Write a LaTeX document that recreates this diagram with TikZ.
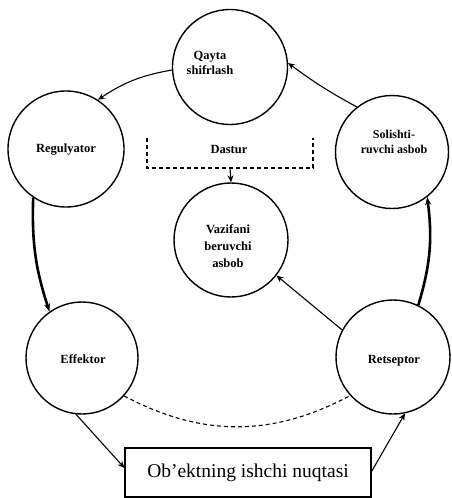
\documentclass[tikz,border=0pt]{standalone}
\usepackage{fontspec}
\setmainfont{Liberation Serif}
\usetikzlibrary{arrows.meta}
\tikzset{
  blob/.style={circle, draw, line width=1.4pt, inner sep=0pt},
  lbl/.style={align=center, font=\fontsize{12.5}{16}\selectfont\bfseries, inner sep=0pt},
  arr/.style={-{Stealth[length=7pt,width=6pt]}, line width=1.1pt},
  thickarr/.style={-{Stealth[length=8pt,width=6pt]}, line width=2.6pt},
  dsh/.style={dashed, line width=1.1pt, dash pattern=on 4pt off 3pt},
}
\begin{document}
\begin{tikzpicture}[x=1pt,y=-1pt]
\useasboundingbox (0,0) rectangle (451,498);
% circles
\node[blob, minimum size=115pt] (qs) at (230,67) {};
\node[blob, minimum size=116pt] (reg) at (66,149) {};
\node[blob, minimum size=113pt] (sol) at (392,152) {};
\node[blob, minimum size=114pt] (vaz) at (231,240) {};
\node[blob, minimum size=112pt] (eff) at (82,358) {};
\node[blob, minimum size=114pt] (ret) at (393,357) {};
% labels
\node[lbl, font=\fontsize{12.5}{15}\selectfont\bfseries] (qst) at (210,63) {Qayta\\shifrlash};
\node[lbl] (regt) at (66,150) {Regulyator};
\node[lbl, font=\fontsize{12}{15}\selectfont\bfseries] (solt) at (394,142) {Solishti-\\ruvchi asbob};
\node[lbl, font=\fontsize{12.5}{17}\selectfont\bfseries] (vazt) at (228,246) {Vazifani\\beruvchi\\asbob};
\node[lbl] (efft) at (83,359) {Effektor};
\node[lbl] (rett) at (394,361) {Retseptor};
% object box
\node[draw, line width=1.1pt, minimum width=246pt, minimum height=49pt,
      font=\fontsize{19.5}{22}\selectfont, inner sep=0pt] (obj) at (248,472.5) {Ob'ektning ishchi nuqtasi};
% Dastur bracket
\coordinate (dl) at (147,138);
\coordinate (dr) at (313,138);
\coordinate (dm) at (230,168);
\draw[dsh] (dl) |- (dm) -| (dr);
\node[lbl] (dast) at (229,149) {Dastur};
\draw[arr] (dm) -- (vaz.north);
% connectors
\draw[arr] (sol.128) to[bend left=4] (qs.4);
\draw[arr] (qs.183) to[bend right=12] (reg.57);
\draw[thickarr] (reg.236) to[bend right=10] (eff.125);
\draw[thickarr] (ret.64) to[bend right=12] (sol.-52);
\draw[arr] (ret.152) -- (vaz.-38);
\draw[dsh] (eff.-42) to[bend right=28] (ret.-138);
\draw[arr] (eff.-96) -- ([yshift=4.5pt]obj.west);
\draw[arr] ([yshift=1pt]obj.east) -- (ret.-78);
\end{tikzpicture}
\end{document}
